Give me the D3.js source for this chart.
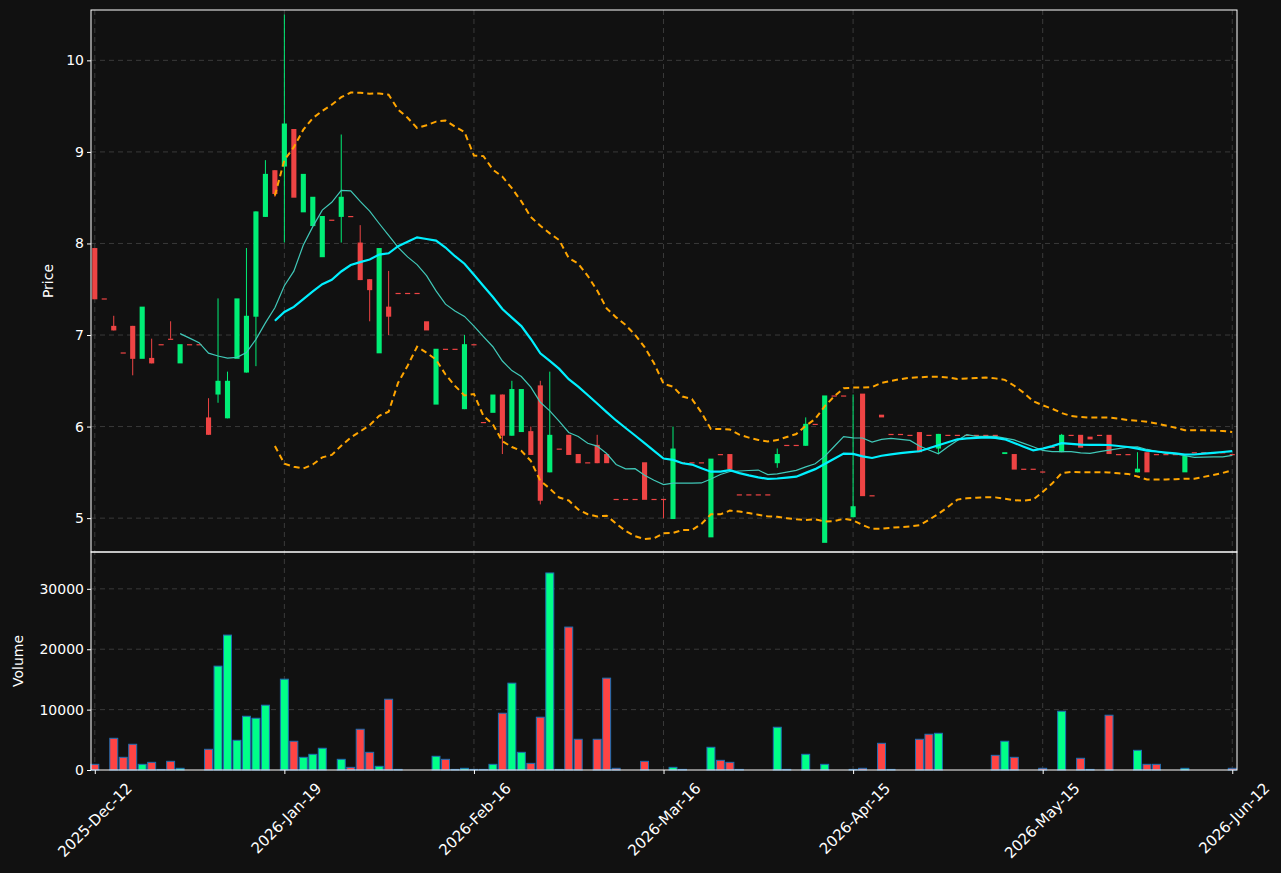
<!DOCTYPE html>
<html>
<head>
<meta charset="utf-8">
<script src="https://cdn.jsdelivr.net/npm/d3@7"></script>
<style>
  body { margin: 0; background: #111111; }
  text { font-family: "DejaVu Sans", sans-serif; fill: #ffffff; }
</style>
</head>
<body>
<svg id="chart" width="1281" height="873"></svg>
<script>
const tickLabels = ["2025-Dec-12", "2026-Jan-19", "2026-Feb-16", "2026-Mar-16", "2026-Apr-15", "2026-May-15", "2026-Jun-12"];
const tickIdx = [0, 20, 40, 60, 80, 100, 120];

const open = [7.95,7.40,7.10,6.81,7.10,6.74,6.75,6.90,6.96,6.69, 6.90,6.90,6.10,6.35,6.09,6.74,6.59,7.20,8.29,8.80,
  8.84,9.25,8.34,8.19,7.85,8.26,8.29,8.30,8.01,7.61, 6.80,7.31,7.46,7.46,7.46,7.15,6.24,6.85,6.85,6.19,
  6.90,6.05,6.15,6.35,5.90,5.94,5.95,6.45,5.50,5.76, 5.91,5.70,5.61,5.80,5.70,5.21,5.21,5.21,5.61,5.21,
  5.21,4.99,5.61,5.61,5.61,4.79,5.70,5.70,5.26,5.26, 5.26,5.26,5.60,5.80,5.80,5.79,6.03,4.73,6.34,6.34,
  5.01,6.36,5.25,6.13,5.92,5.92,5.91,5.94,5.91,5.76, 5.91,5.91,5.91,5.91,5.91,5.91,5.70,5.70,5.54,5.54,
  5.51,5.78,5.72,5.91,5.91,5.89,5.91,5.91,5.70,5.70, 5.50,5.72,5.70,5.70,5.70,5.50,5.72,5.72,5.72,5.72,5.70];
const high = [7.95,7.40,7.21,6.81,7.10,7.31,6.96,6.90,7.15,6.90, 6.90,6.90,6.31,7.40,6.60,7.40,7.95,8.35,8.91,8.80,
  10.50,9.25,8.76,8.51,8.30,8.26,9.19,8.30,8.20,7.61, 7.95,7.70,7.46,7.46,7.46,7.15,6.85,6.85,6.85,7.00,
  6.90,6.05,6.35,6.35,6.50,6.41,6.00,6.50,6.60,5.76, 5.91,5.70,5.61,5.91,5.70,5.21,5.21,5.21,5.61,5.21,
  5.21,6.00,5.61,5.61,5.61,5.65,5.70,5.70,5.26,5.26, 5.26,5.26,5.76,5.80,5.80,6.10,6.03,6.34,6.34,6.34,
  6.35,6.36,5.25,6.13,5.92,5.92,5.91,5.94,5.91,5.92, 5.91,5.91,5.91,5.91,5.91,5.91,5.72,5.70,5.54,5.54,
  5.51,5.78,5.92,5.91,5.91,5.89,5.91,5.91,5.70,5.70, 5.72,5.72,5.70,5.70,5.70,5.68,5.72,5.72,5.72,5.72,5.70];
const low = [7.39,7.40,7.05,6.81,6.56,6.74,6.69,6.90,6.96,6.69, 6.90,6.90,5.91,6.26,6.09,6.74,6.59,6.66,8.29,8.51,
  8.01,8.50,8.34,8.19,7.85,8.26,8.01,8.30,7.60,7.15, 6.80,7.00,7.46,7.46,7.46,7.05,6.24,6.85,6.85,6.19,
  6.90,6.05,6.15,5.70,5.90,5.94,5.69,5.15,5.50,5.76, 5.69,5.60,5.61,5.60,5.60,5.21,5.21,5.21,5.20,5.21,
  5.00,4.99,5.61,5.61,5.61,4.79,5.70,5.53,5.26,5.26, 5.26,5.26,5.55,5.80,5.80,5.79,6.03,4.73,6.34,6.34,
  5.01,5.24,5.25,6.10,5.92,5.92,5.91,5.72,5.91,5.70, 5.91,5.91,5.91,5.91,5.91,5.91,5.70,5.53,5.54,5.54,
  5.51,5.78,5.72,5.91,5.77,5.86,5.91,5.70,5.70,5.70, 5.50,5.50,5.70,5.70,5.70,5.50,5.72,5.72,5.72,5.72,5.70];
const close = [7.39,7.40,7.05,6.81,6.74,7.31,6.69,6.90,6.96,6.90, 6.90,6.90,5.91,6.50,6.50,7.40,7.21,8.35,8.76,8.54,
  9.31,8.50,8.76,8.51,8.30,8.26,8.51,8.30,7.60,7.49, 7.95,7.20,7.46,7.46,7.46,7.05,6.85,6.85,6.85,6.90,
  6.90,6.05,6.35,5.90,6.41,6.41,5.69,5.19,5.91,5.76, 5.69,5.60,5.61,5.60,5.60,5.21,5.21,5.21,5.20,5.21,
  5.21,5.76,5.61,5.61,5.61,5.65,5.70,5.53,5.26,5.26, 5.26,5.26,5.70,5.80,5.80,6.03,6.03,6.34,6.34,6.34,
  5.13,5.24,5.25,6.10,5.92,5.92,5.91,5.72,5.91,5.92, 5.91,5.91,5.91,5.91,5.91,5.91,5.72,5.53,5.54,5.54,
  5.51,5.78,5.91,5.91,5.77,5.86,5.91,5.70,5.70,5.70, 5.54,5.50,5.70,5.70,5.70,5.68,5.72,5.72,5.72,5.72,5.70];
const volume = [940,0,5250,2100,4260,940,1270,100,1440,280, 0,0,3430,17200,22340,4920,8900,8570,10730,0,
  15040,4760,2100,2600,3600,0,1770,440,6750,2930, 610,11720,100,0,0,0,2270,1770,100,280,
  100,100,940,9400,14380,2930,1100,8740,32630,100, 23670,5090,0,5090,15210,280,0,0,1440,0,
  0,440,100,0,0,3760,1600,1270,100,0, 0,0,7080,100,0,2600,0,940,0,0,
  100,280,0,4420,100,0,0,5090,5920,6080, 0,0,0,0,0,2430,4760,2100,0,0,
  280,0,9730,0,1940,100,0,9070,0,0, 3260,940,940,0,0,280,0,0,0,0,280];
// volume bar colour: u = up, d = down, ten bars per string
const volDir = [
  "dddddudddu", "ddduuuuuud", "uduuududdd", "uddddduddu",
  "dduduuddud", "dddddddddd", "dudddudddd", "dduddududd",
  "dddddddddu", "dddddduddd", "dduddddddd", "uddddudddd", "d"
].join("").split("");

const W = 1281, H = 873;
const L = 91, R = 1237, T = 10, MID = 552, B = 770;
const n = close.length;
const idx = d3.range(n);

const svg = d3.select("#chart");
svg.append("rect").attr("width", W).attr("height", H).attr("fill", "#111111");

const x = d3.scaleLinear().domain([-0.4, 120.5]).range([L, R]);
const y = d3.scaleLinear().domain([4.63, 10.55]).range([MID, T]);
const yv = d3.scaleLinear().domain([0, 36100]).range([B, MID]);
const step = x(1) - x(0);

// moving averages and bands
function sma(p) {
  return idx.map(i => i < p - 1 ? null : d3.mean(close.slice(i - p + 1, i + 1)));
}
const ma10 = sma(10), ma20 = sma(20);
const sd20 = idx.map(i => i < 19 ? null : d3.deviation(close.slice(i - 19, i + 1)) * Math.sqrt(19 / 20));
const upper = idx.map(i => ma20[i] == null ? null : ma20[i] + 2 * sd20[i]);
const lower = idx.map(i => ma20[i] == null ? null : ma20[i] - 2 * sd20[i]);

// grids
const grid = svg.append("g").attr("stroke", "#3a3a3a").attr("stroke-dasharray", "5,4").attr("stroke-width", 1);
tickIdx.forEach(t => grid.append("line").attr("x1", x(t)).attr("x2", x(t)).attr("y1", T).attr("y2", B));
d3.range(5, 11).forEach(v => grid.append("line").attr("x1", L).attr("x2", R).attr("y1", y(v)).attr("y2", y(v)));
[10000, 20000, 30000].forEach(v => grid.append("line").attr("x1", L).attr("x2", R).attr("y1", yv(v)).attr("y2", yv(v)));

const green = "#00ee76", red = "#ee4444";

// candles
const candles = svg.append("g");
idx.forEach(i => {
  const up = close[i] > open[i];
  const c = up ? green : red;
  if (high[i] > Math.max(open[i], close[i]) || low[i] < Math.min(open[i], close[i]))
    candles.append("line").attr("x1", x(i)).attr("x2", x(i))
      .attr("y1", y(high[i])).attr("y2", y(low[i])).attr("stroke", c).attr("stroke-width", 1);
  const top = y(Math.max(open[i], close[i])), bot = y(Math.min(open[i], close[i]));
  candles.append("rect").attr("x", x(i) - step * 0.27).attr("width", step * 0.54)
    .attr("y", top).attr("height", Math.max(bot - top, 1.2)).attr("fill", c);
});

const line = d3.line().defined(d => d[1] != null).x(d => x(d[0])).y(d => y(d[1]));
const pts = a => a.map((v, i) => [i, v]);
svg.append("path").attr("d", line(pts(upper))).attr("fill", "none").attr("stroke", "#ffa500")
  .attr("stroke-width", 2).attr("stroke-dasharray", "6,4");
svg.append("path").attr("d", line(pts(lower))).attr("fill", "none").attr("stroke", "#ffa500")
  .attr("stroke-width", 2).attr("stroke-dasharray", "6,4");
svg.append("path").attr("d", line(pts(ma10))).attr("fill", "none").attr("stroke", "#40c8b8").attr("stroke-width", 1.2);
svg.append("path").attr("d", line(pts(ma20))).attr("fill", "none").attr("stroke", "#00f0ff").attr("stroke-width", 2.2);

// volume bars
svg.append("g").selectAll("rect").data(idx.filter(i => volume[i] > 0)).enter().append("rect")
  .attr("x", i => x(i) - step * 0.42).attr("width", step * 0.84)
  .attr("y", i => yv(volume[i])).attr("height", i => B - yv(volume[i]))
  .attr("fill", i => volDir[i] === "u" ? "#00ff88" : "#ff4444")
  .attr("stroke", "#1f6fb4").attr("stroke-width", 1);

// frames
const frame = svg.append("g").attr("fill", "none").attr("stroke", "#ffffff").attr("stroke-width", 1);
frame.append("rect").attr("x", L).attr("y", T).attr("width", R - L).attr("height", MID - T);
frame.append("rect").attr("x", L).attr("y", MID).attr("width", R - L).attr("height", B - MID);

// axes
const yAxis = svg.append("g").attr("transform", `translate(${L},0)`)
  .call(d3.axisLeft(y).tickValues(d3.range(5, 11)).tickSize(4).tickFormat(d3.format("d")));
const vAxis = svg.append("g").attr("transform", `translate(${L},0)`)
  .call(d3.axisLeft(yv).tickValues([0, 10000, 20000, 30000]).tickSize(4).tickFormat(d3.format("d")));
const xAxis = svg.append("g").attr("transform", `translate(0,${B})`)
  .call(d3.axisBottom(x).tickValues(tickIdx).tickSize(4).tickFormat((d, i) => tickLabels[i]));
[yAxis, vAxis, xAxis].forEach(a => {
  a.select(".domain").remove();
  a.selectAll("line").attr("stroke", "#ffffff");
  a.selectAll("text").style("font-size", "14px").attr("fill", "#ffffff");
});
xAxis.selectAll("text").style("font-size", "15px").attr("text-anchor", "end")
  .attr("dx", "0.3em").attr("dy", "0.9em").attr("transform", "translate(20,8) rotate(-45)");

svg.append("text").attr("transform", `translate(53,${(T + MID) / 2}) rotate(-90)`)
  .attr("text-anchor", "middle").style("font-size", "14px").text("Price");
svg.append("text").attr("transform", `translate(23,${(MID + B) / 2}) rotate(-90)`)
  .attr("text-anchor", "middle").style("font-size", "14px").text("Volume");
</script>
</body>
</html>
